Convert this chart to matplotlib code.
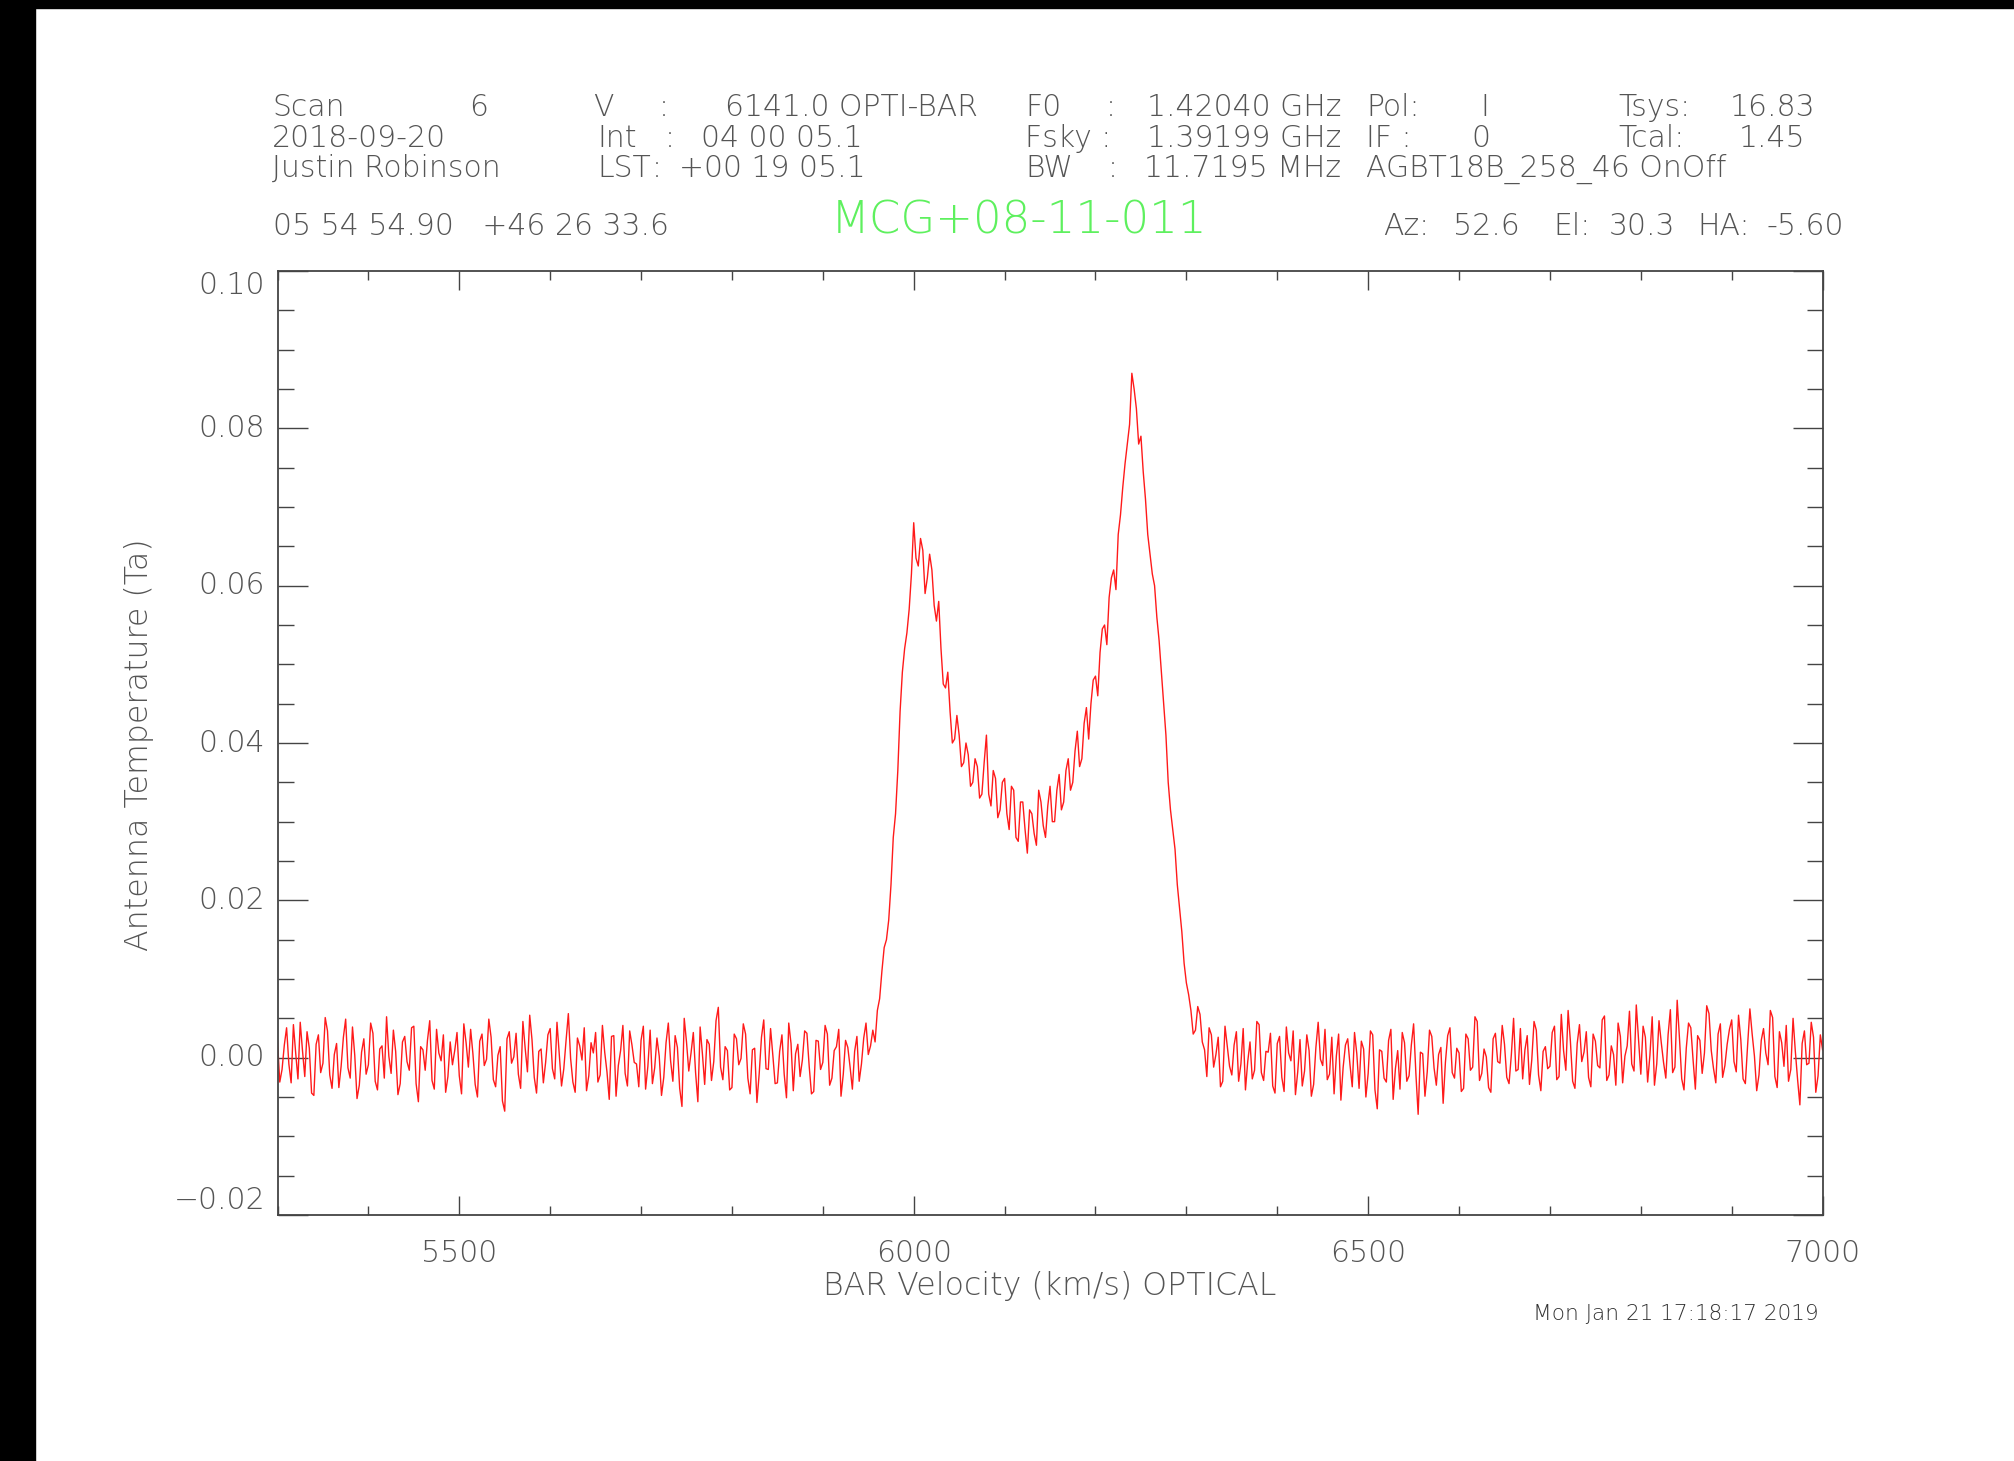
#!/usr/bin/env python3

import numpy as np
import matplotlib
matplotlib.use('Agg')
import matplotlib.pyplot as plt
from matplotlib.ticker import MultipleLocator
from matplotlib.patches import Rectangle

W, H = 2014, 1461

# antenna temperature in mK.
# "even" channels every 5 km/s starting at 5300, "odd" channels halfway between them
ta_left = [
    2.1, -1.5, 3.8, -3.2, 0.6, 4.5, -2.4, 1.2, -4.8, 2.9, -0.7, 3.4, -3.9, 1.8, -1.1, 4.9, -2.6, 0.3, -3.5, 2.4,
    -0.9, 3.1, -4.1, 1.5, 5.2, -2.0, 0.8, -3.3, 2.7, -1.6, 4.0, -5.6, 1.0, 2.2, -2.9, 3.6, -0.4, -4.4, 2.0, 0.9,
    -2.3, 4.3, -1.2, 0.5, -5.0, 3.0, -0.2, 2.6, -3.7, 1.4, -6.8, 3.3, 0.1, -2.1, 4.6, -1.8, 2.3, -4.5, 1.1, -0.6,
    3.7, -2.7, 0.4, -1.4, 5.6, -3.1, 2.5, -0.3, -4.2, 1.9, 3.2, -2.2, 0.7, -5.3, 2.8, -1.0, 4.1, -3.6, 1.6, -0.8,
    2.2, -4.0, 3.5, -1.3, 0.2, -2.5, 4.4, -3.0, 1.3, -6.2, 2.0, 0.6, -1.9, 3.9, -3.4, 1.7, -0.5, 6.4, -2.8, 0.9,
    -3.8, 2.4, -0.1, 3.0, -4.6, 1.2, -2.0, 4.8, -1.5, 0.3, -3.2, 2.9, -5.1, 1.8, 0.5, -2.4, 3.4, -1.1, -4.3, 2.1,
    -0.6, 3.0, -2.6, 1.4, -4.9, 2.2, -1.2, 0.8, -3.0, 2.5, 0.4, 3.5,
]
ta_left_odd = [
    -3.1, 1.6, -0.8, 4.2, -2.7, 0.9, 3.3, -4.5, 1.7, -1.9, 5.1, -2.2, 0.4, -3.8, 2.6, -1.3, 3.9, -5.2, 0.7, -2.1,
    4.4, -3.0, 1.1, -2.6, 0.2, 3.5, -4.7, 2.0, -0.5, 3.8, -3.3, 1.4, -1.6, 4.7, -4.0, 0.6, 2.9, -2.4, -0.9, 3.2,
    -4.6, 1.9, 3.6, -3.4, 2.1, -1.0, 4.9, -2.8, 0.3, -5.5, 2.4, -0.7, 3.1, -3.9, 1.2, 5.4, -2.5, 0.8, -3.2, 2.9,
    -1.4, 4.5, -3.6, 2.2, -0.1, -4.4, 1.5, 3.8, -2.3, 0.6, -3.1, 4.1, -1.8, 2.7, -4.9, 0.9, -2.0, 3.4, -0.6, -3.7,
    4.0, -1.1, -3.3, 2.5, -4.8, 1.9, -0.4, 2.8, -3.9, 5.0, -1.7, 3.2, -5.6, 0.5, 2.3, -2.9, 4.7, -1.2, 1.4, -4.1,
    3.0, -0.9, 4.3, -2.6, 1.0, -5.7, 2.6, -1.4, 3.7, -3.3, 0.8, -2.1, 4.4, -4.2, 1.7, -0.3, 3.1, -4.6, 2.2, -1.5,
    4.1, -3.5, 0.9, 3.6, -2.1, 1.3, -4.0, 2.7, -0.8, 4.4, 1.5, 2.0,
]
ta_line = [
    6.0, 11.0, 15.0, 22.0, 31.0, 44.0, 52.0, 57.0,
    68.0, 62.5, 64.5, 61.0, 62.0, 55.5, 52.0, 47.0, 44.0, 40.5, 41.0, 37.5, 38.5, 35.0, 37.0, 33.5, 41.0, 32.0, 35.5, 31.5,
    35.5, 29.0, 34.0, 27.5, 32.5, 26.0, 31.0, 27.0, 32.5, 28.0, 34.5, 30.0, 36.0, 32.5, 38.0, 35.0, 41.5, 38.0, 44.5, 45.0,
    48.5, 51.5, 55.0, 58.5, 62.0, 66.5, 72.5, 78.0, 87.0, 82.5, 79.0, 71.0, 64.0, 60.0, 53.0, 45.0, 35.0, 29.0, 22.0, 16.0,
    9.5, 6.0, 3.5, 5.5,
]
ta_line_odd = [
    7.5, 14.0, 17.5, 28.0, 36.5, 49.0, 54.0, 61.5,
    63.5, 66.0, 59.0, 64.0, 57.5, 58.0, 47.5, 49.0, 40.0, 43.5, 37.0, 40.0, 34.5, 38.0, 33.0, 37.5, 33.5, 36.5, 30.5, 35.0,
    31.0, 34.5, 28.0, 32.5, 29.0, 31.5, 28.5, 34.0, 29.5, 32.0, 30.0, 34.0, 31.5, 36.5, 34.0, 39.0, 37.0, 42.5, 40.5, 48.0,
    46.0, 54.5, 52.5, 61.0, 59.5, 69.0, 75.5, 80.5, 85.0, 78.0, 74.5, 66.5, 61.5, 56.0, 49.0, 41.0, 31.5, 26.5, 19.0, 12.0,
    8.0, 3.0, 6.5, 2.0,
]
ta_right = [
    1.0, 3.8, -1.2, 2.6, -3.0, 1.5, -2.2, 3.3, -0.8, -4.1, 2.0, -1.6, 4.2, -2.9, 0.7, -3.6,
    1.8, -2.5, 3.9, -0.4, -4.7, 2.3, -1.7, 0.9, -3.4, 4.5, -1.0, -2.8, 2.6, 0.2, -5.4, 1.6, -0.9, 3.2, -3.9, 1.1,
    -2.0, 2.9, -6.5, 0.8, -3.1, 3.6, -1.4, -4.0, 1.9, -2.3, 4.3, -7.2, 0.5, -1.8, 2.7, -3.5, 1.3, -0.6, 3.8, -2.6,
    0.6, -3.9, 2.4, -1.2, 4.6, -2.0, 0.1, -4.4, 3.1, -0.7, 1.7, -3.3, 5.0, -1.5, -2.7, 2.8, -0.3, 3.5, -4.2, 1.4,
    -1.1, 4.0, -2.4, 0.9, 6.0, -3.0, 1.8, -0.5, 3.3, -3.7, 2.1, -1.3, 5.3, -2.2, 0.4, 4.4, -3.2, 1.5, -0.8, 6.7,
    -2.1, 2.6, 0.3, -3.5, 4.7, -0.6, 2.9, -1.9, 7.3, -2.7, 1.2, 3.8, -4.0, 2.2, 0.6, 5.6, -1.4, 3.0, -2.5, 1.7,
    4.8, -1.8, 2.3, -3.3, 6.2, 0.2, -2.2, 3.7, -0.9, 5.1, -3.8, 1.9, 4.1, -1.5, 0.8, -6.0, 3.4, -0.7, 2.6, -2.3,
    1.0,
]
ta_right_odd = [
    -2.4, 2.9, 0.4, -3.7, 4.0, -1.1, 1.6, -3.0, 3.7, -0.5, -2.7, 4.6, -1.9, 0.8, 3.1, -4.5,
    2.7, -4.3, 0.6, 3.4, -1.8, -3.6, 2.9, -4.9, 1.3, -0.2, 3.6, -2.1, -4.6, 3.0, -1.2, 2.4, -3.7, 0.5, 2.1, -5.0,
    3.4, -4.1, 1.0, -2.6, 2.2, -5.3, 0.9, 3.2, -3.0, 1.6, -2.0, 0.7, -4.9, 3.5, -1.3, 0.4, -5.8, 2.8, -1.9, 1.2,
    -4.3, 3.0, -1.6, 5.2, -2.9, 1.1, -3.8, 2.4, -0.5, 4.1, -2.5, 0.3, -1.7, 3.7, 1.0, -3.4, 4.6, -2.2, 0.8, -1.4,
    3.2, -2.8, 5.5, -1.6, 2.1, -3.9, 4.2, 0.7, -2.5, 3.0, -1.0, 4.8, -2.9, 1.5, -3.5, 2.7, 0.2, 5.9, -1.7, 2.4,
    4.0, -3.1, 5.2, -0.8, 1.9, -2.6, 6.1, -1.2, 2.5, -4.1, 4.4, -0.3, 2.8, -2.0, 6.6, 0.9, -3.2, 4.3, -1.0, 3.6,
    -0.5, 5.4, -2.7, 1.6, 3.0, -4.2, 2.2, 0.6, 6.0, -2.4, 3.3, -1.1, -3.0, 5.0, -2.8, 1.8, -0.9, 4.5, -4.4, 2.9,
]
v_start, v_step = 5300, 5

header_rows = [
    [('Scan', 272, 'left'), ('6', 488, 'right'), ('V', 593, 'left'), (':', 659, 'left'),
     ('6141.0 OPTI-BAR', 725, 'left'), ('F0', 1025, 'left'), (':', 1106, 'left'),
     ('1.42040 GHz', 1341, 'right'), ('Pol:', 1366, 'left'), ('I', 1480, 'left'),
     ('Tsys:', 1618, 'left'), ('16.83', 1815, 'right')],
    [('2018-09-20', 272, 'left'), ('Int', 597, 'left'), (':', 665, 'left'),
     ('04 00 05.1', 863, 'right'), ('Fsky :', 1025, 'left'), ('1.39199 GHz', 1341, 'right'),
     ('IF :', 1366, 'left'), ('0', 1471, 'left'), ('Tcal:', 1618, 'left'), ('1.45', 1805, 'right')],
    [('Justin Robinson', 272, 'left'), ('LST', 597, 'left'), (':', 652, 'left'),
     ('+00 19 05.1', 866, 'right'), ('BW', 1025, 'left'), (':', 1108, 'left'),
     ('11.7195 MHz', 1341, 'right'), ('AGBT18B_258_46 OnOff', 1366, 'left')],
    [('05 54 54.90   +46 26 33.6', 273, 'left'), ('Az:', 1383, 'left'), ('52.6', 1453, 'left'),
     ('El:', 1553, 'left'), ('30.3', 1609, 'left'), ('HA:', 1697, 'left'), ('-5.60', 1844, 'right')],
]
header_baselines = [116, 147, 177, 235]

source_name = 'MCG+08-11-011'
xlabel = 'BAR Velocity (km/s) OPTICAL'
ylabel = 'Antenna Temperature (Ta)'
stamp = 'Mon Jan 21 17:18:17 2019'
y_ticks = [-0.02, 0.0, 0.02, 0.04, 0.06, 0.08, 0.10]

TXT = '#555555'
FONT = dict(family='DejaVu Sans', fontweight='light')


def fx(x):
    return x / W


def fy(y):
    return 1 - y / H


def main():
    even = np.array(ta_left + ta_line + ta_right)
    odd = np.array(ta_left_odd + ta_line_odd + ta_right_odd)
    v_even = v_start + v_step * np.arange(len(even))
    v_odd = v_start + v_step * (np.arange(len(odd)) + 0.5)
    vel = np.concatenate([v_even, v_odd])
    ta = np.concatenate([even, odd]) / 1000.0
    order = np.argsort(vel)
    vel, ta = vel[order], ta[order]

    fig = plt.figure(figsize=(W / 100, H / 100), dpi=100)
    fig.patches.append(Rectangle((0, 0), fx(35), 1, transform=fig.transFigure,
                                 color='black', zorder=10))
    fig.patches.append(Rectangle((0, fy(8)), 1, 1 - fy(8), transform=fig.transFigure,
                                 color='black', zorder=10))

    ax = fig.add_axes([fx(277.5), fy(1215), fx(1822.6) - fx(277.5), fy(271) - fy(1215)])
    ax.plot(vel, ta, color='#ff1a1a', linewidth=1.0)
    ax.set_xlim(5300, 7000)
    ax.set_ylim(-0.02, 0.10)

    ax.xaxis.set_major_locator(MultipleLocator(500))
    ax.xaxis.set_minor_locator(MultipleLocator(100))
    ax.yaxis.set_major_locator(MultipleLocator(0.02))
    ax.yaxis.set_minor_locator(MultipleLocator(0.005))

    for s in ax.spines.values():
        s.set_color('#444444')
        s.set_linewidth(1.3)
    ax.tick_params(which='both', direction='in', top=True, right=True,
                   colors='#444444', width=1.0, labelcolor=TXT, labelsize=21.5)
    ax.tick_params(axis='x', which='major', length=13.7, pad=17)
    ax.tick_params(axis='x', which='minor', length=6.8)
    ax.tick_params(axis='y', which='major', length=21.6, labelleft=False)
    ax.tick_params(axis='y', which='minor', length=11.3)
    for lab in ax.get_xticklabels():
        lab.set_fontweight('light')

    # y labels drawn by hand so the end ones sit inside the frame like the original
    dx = -12.5 / (fx(1822.6) - fx(277.5)) / W
    for v in y_ticks:
        va = 'center'
        if v == y_ticks[-1]:
            va = 'top'
        elif v == y_ticks[0]:
            va = 'bottom'
        ax.text(dx, v, f'{v:.2f}'.replace('-', '\u2212'), transform=ax.get_yaxis_transform(),
                ha='right', va=va, fontsize=21.5, color=TXT, **FONT)

    for row, base in zip(header_rows, header_baselines):
        for text, x, ha in row:
            fig.text(fx(x), fy(base), text, ha=ha, va='baseline',
                     fontsize=21.5, color=TXT, **FONT)

    fig.text(fx(1019.5), fy(233), source_name, ha='center', va='baseline',
             fontsize=32.5, color='#5ef05e', **FONT)
    fig.text(fx(1050), fy(1295), xlabel, ha='center', va='baseline',
             fontsize=22.8, color=TXT, **FONT)
    fig.text(fx(139), fy(745), ylabel, ha='center', va='center', rotation=90,
             fontsize=22.8, color=TXT, **FONT)
    fig.text(fx(1819), fy(1320), stamp, ha='right', va='baseline',
             fontsize=15.6, color='#333333', **FONT)

    fig.savefig('out.png', dpi=100, facecolor='white')


if __name__ == '__main__':
    main()
